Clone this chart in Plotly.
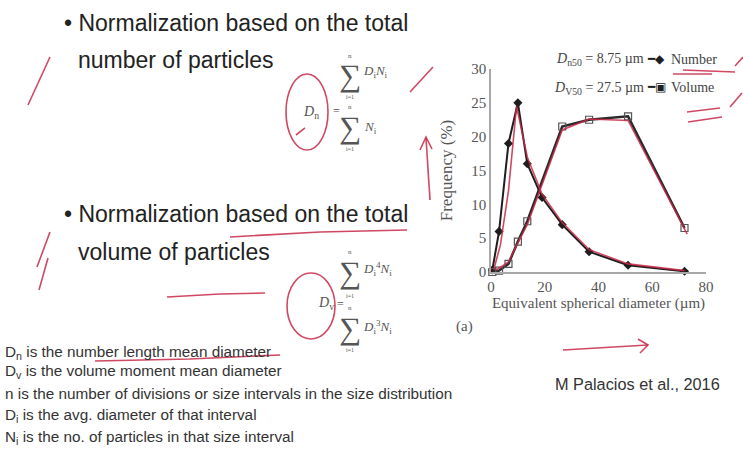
import plotly.graph_objects as go

# ---------------- data ----------------
diameter_number = [0.5, 3, 6.5, 10, 13.5, 19, 26.5, 36.5, 51, 72]
freq_number = [0.3, 6, 19, 25, 16, 11, 7, 3, 1, 0.1]
diameter_volume = [0.5, 3, 6.5, 10, 13.5, 26.5, 36.5, 51, 72]
freq_volume = [0.0, 0.2, 1.2, 4.5, 7.5, 21.5, 22.5, 23, 6.5]
# hand-drawn red ink tracing the curves (lecture annotation)
ink_number_x = [1, 3.5, 6.5, 9.5, 13.5, 19, 26.5, 36.5, 51, 72]
ink_number_y = [0.3, 4, 12, 24.5, 17, 11.5, 7.3, 3.3, 1.2, 0.2]
ink_volume_x = [2, 6.5, 10, 13.5, 26.5, 36.5, 51, 73]
ink_volume_y = [0.3, 1.5, 4.3, 7, 21, 22.6, 22.4, 5.6]
x_ticks = [0, 20, 40, 60, 80]
y_ticks = [0, 5, 10, 15, 20, 25, 30]

# ---------------- geometry helpers (pixel -> paper) ----------------
W_FIG, H_FIG = 743, 453
L, R, T, B = 491, 37, 69, 181
PW, PH = W_FIG - L - R, H_FIG - T - B


def X(px):
    return (px - L) / PW


def Y(py):
    return (T + PH - py) / PH


INK = "rgba(200,40,70,0.85)"
SANS = "Liberation Sans, Arial, sans-serif"
SERIF = "Liberation Serif, Times New Roman, serif"
DARK = "#1e1e1e"

fig = go.Figure()

fig.add_trace(go.Scatter(x=diameter_number, y=freq_number, mode="lines+markers",
                         line=dict(color=DARK, width=2),
                         marker=dict(symbol="diamond", size=7, color=DARK),
                         cliponaxis=False, showlegend=False))
fig.add_trace(go.Scatter(x=diameter_volume, y=freq_volume, mode="lines+markers",
                         line=dict(color="#2a2a2a", width=2.5),
                         marker=dict(symbol="square-open", size=7, color="#555",
                                     line=dict(width=1.2)),
                         cliponaxis=False, showlegend=False))
fig.add_trace(go.Scatter(x=ink_number_x, y=ink_number_y, mode="lines",
                         line=dict(color=INK, width=1.6), cliponaxis=False,
                         showlegend=False))
fig.add_trace(go.Scatter(x=ink_volume_x, y=ink_volume_y, mode="lines",
                         line=dict(color=INK, width=1.6), cliponaxis=False,
                         showlegend=False))

ann = []


def text(px, py, s, size, color="#222", font=SANS, xanchor="left", angle=0):
    ann.append(dict(x=X(px), y=Y(py), xref="paper", yref="paper", text=s,
                    showarrow=False, xanchor=xanchor, yanchor="middle",
                    textangle=angle, borderpad=0,
                    font=dict(family=font, size=size, color=color)))


# slide headings
HS = 23
text(63, 23, "• Normalization based on the total", HS)
text(77, 60, "number of particles", HS)
text(63, 214, "• Normalization based on the total", HS)
text(77, 252, "volume of particles", HS)

# formula 1 : D_n
FC = "#555"
SUM = 31
text(302, 112, "<i>D</i><sub>n</sub>", 14, FC, SERIF)
text(332, 111, "=", 12, FC, SERIF)
text(350, 56, "n", 7, FC, SERIF, "center")
text(350, 76, "∑", SUM, FC, SERIF, "center")
text(362, 71, "<i>D</i><sub>i</sub><i>N</i><sub>i</sub>", 13, FC, SERIF)
text(350, 97, "i=1", 6, FC, SERIF, "center")
text(350, 107, "n", 7, FC, SERIF, "center")
text(350, 127, "∑", SUM, FC, SERIF, "center")
text(363, 127, "<i>N</i><sub>i</sub>", 13, FC, SERIF)
text(350, 149, "i=1", 6, FC, SERIF, "center")

# formula 2 : D_v
text(317, 303, "<i>D</i><sub>v</sub>", 14, FC, SERIF)
text(336, 304, "=", 12, FC, SERIF)
text(350, 252, "n", 7, FC, SERIF, "center")
text(350, 272, "∑", SUM, FC, SERIF, "center")
text(362, 269, "<i>D</i><sub>i</sub><sup>4</sup><i>N</i><sub>i</sub>", 13, FC, SERIF)
text(350, 296, "i=1", 6, FC, SERIF, "center")
text(350, 308, "n", 7, FC, SERIF, "center")
text(350, 328, "∑", SUM, FC, SERIF, "center")
text(362, 327, "<i>D</i><sub>i</sub><sup>3</sup><i>N</i><sub>i</sub>", 13, FC, SERIF)
text(350, 350, "i=1", 6, FC, SERIF, "center")

# definitions
BC = "#333"
BS = 15.3
text(4, 352, "D<sub>n</sub> is the number length mean diameter", BS, BC)
text(4, 371, "D<sub>v</sub> is the volume moment mean diameter", BS, BC)
text(4, 393, "n is the number of divisions or size intervals in the size distribution", BS, BC)
text(4, 415, "D<sub>i</sub> is the avg. diameter of that interval", BS, BC)
text(4, 437, "N<sub>i</sub> is the no. of particles in that size interval", BS, BC)

# chart texts
text(455, 326, "(a)", 15, "#555", SERIF)
text(645, 60, "<i>D</i><sub>n50</sub> = 8.75 µm", 14, "#444", SERIF, "right")
text(646, 59, "━◆", 12, DARK, SERIF)
text(670, 59, "Number", 14, "#444", SERIF)
text(645, 88, "<i>D</i><sub>V50</sub> = 27.5 µm", 14, "#444", SERIF, "right")
text(646, 87, "━▣", 12, DARK, SERIF)
text(670, 87, "Volume", 14, "#444", SERIF)
text(637, 384, "M Palacios et al., 2016", 16.3, "#333", SANS, "center")

fig.update_layout(annotations=ann)

# ---------------- red hand-drawn ink ----------------
shapes = []


def path(pts, width=1.6):
    d = "M " + " L ".join(f"{X(a):.4f},{Y(b):.4f}" for a, b in pts)
    shapes.append(dict(type="path", path=d, xref="paper", yref="paper",
                       line=dict(color=INK, width=width)))


def ellipse(cx, cy, rx, ry):
    shapes.append(dict(type="circle", xref="paper", yref="paper",
                       x0=X(cx - rx), x1=X(cx + rx), y0=Y(cy + ry), y1=Y(cy - ry),
                       line=dict(color=INK, width=1.6)))


path([(28, 105), (50, 57)])
path([(410, 92), (433, 67)])
ellipse(307, 112, 21, 38)
path([(296, 135), (305, 128)])
path([(430, 200), (426, 138)])
path([(420, 150), (426, 137), (432, 149)])
path([(230, 237), (320, 232), (407, 230)])
path([(50, 232), (37, 267)])
path([(48, 258), (39, 290)])
path([(167, 297), (220, 294), (265, 293)])
ellipse(311, 306, 24, 33)
path([(95, 361), (190, 359), (280, 355)])
path([(563, 350), (648, 345)])
path([(638, 339), (648, 345), (640, 353)])
path([(683, 70), (735, 72)])
path([(673, 74), (712, 74)])
path([(735, 66), (743, 57)])
path([(687, 112), (720, 108)])
path([(688, 122), (722, 117)])
path([(730, 107), (742, 93)])
fig.update_layout(shapes=shapes)

AX = "#a8a8a8"
fig.update_xaxes(range=[0, 80], tickvals=x_ticks, showgrid=False, zeroline=False,
                 showline=True, linecolor=AX, linewidth=1.5, ticks="",
                 tickfont=dict(family=SERIF, size=15, color="#555"),
                 title=dict(text="Equivalent spherical diameter (µm)", standoff=4,
                            font=dict(family=SERIF, size=15, color="#555")))
fig.update_yaxes(range=[0, 30], tickvals=y_ticks, showgrid=False, zeroline=False,
                 showline=True, linecolor=AX, linewidth=1.5, ticks="",
                 tickfont=dict(family=SERIF, size=15, color="#555"),
                 title=dict(text="Frequency (%)", standoff=14,
                            font=dict(family=SERIF, size=17, color="#555")))

fig.update_layout(width=W_FIG, height=H_FIG, paper_bgcolor="white",
                  plot_bgcolor="white",
                  margin=dict(l=L, r=R, t=T, b=B, autoexpand=False))

fig.write_html("out.html", config={"displayModeBar": False},
               post_script="document.body.style.margin='0';document.body.style.overflow='hidden';")
